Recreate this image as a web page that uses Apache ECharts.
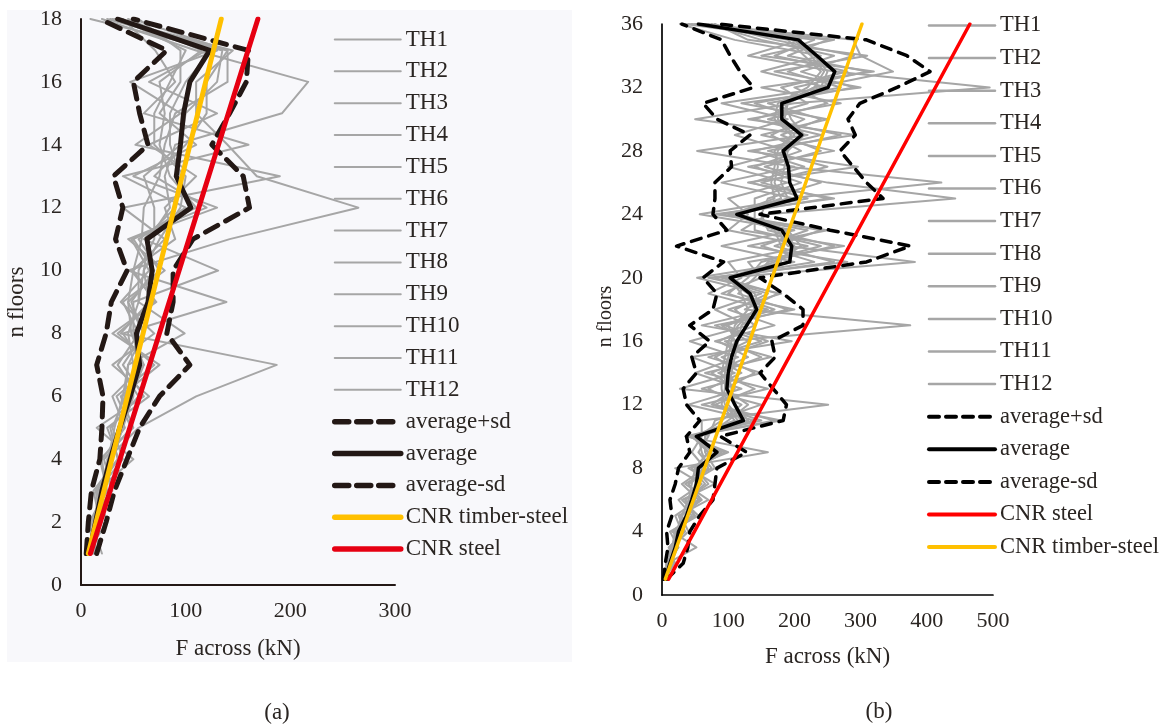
<!DOCTYPE html>
<html>
<head>
<meta charset="utf-8">
<script src="https://cdn.jsdelivr.net/npm/echarts@6/dist/echarts.min.js"></script>
<style>
html,body{margin:0;padding:0;background:#ffffff;}
#chart{width:1166px;height:728px;}
</style>
</head>
<body>
<div id="chart"></div>
<script>
// ---------- (a) 18-floor building ----------
const floorsA = [1,2,3,4,5,6,7,8,9,10,11,12,13,14,15,16,17,18];
const thA1  = [5,25,15,50,15,60,40,60,45,75,55,100,40,160,60,90,71,40];
const thA2  = [8,12,18,26,32,40,45,99,55,60,65,85,80,90,192,217,110,20];
const thA3  = [20,10,30,22,48,34,70,35,70,50,80,40,190,52,95,47,130,9];
const thA4  = [6,18,12,35,28,55,35,55,40,80,45,120,70,100,120,120,140,50];
const thA5  = [10,14,20,28,38,45,55,50,50,131,60,90,95,85,85,100,125,35];
const thA6  = [12,8,24,20,42,30,60,40,139,45,142,265,168,140,110,110,145,30];
const thA7  = [7,20,16,40,30,42,45,60,48,70,50,110,85,75,80,75,115,45];
const thA8  = [9,16,22,30,40,50,50,45,55,55,70,70,60,95,100,130,135,25];
const thA9  = [14,11,28,25,55,110,187,38,65,60,75,95,100,70,70,85,100,38];
const thA10 = [4,19,14,36,25,65,30,70,38,65,48,130,50,110,75,95,95,55];
const thA11 = [13,15,21,30,36,48,60,48,45,50,58,60,75,80,90,140,140,28];
const thA12 = [11,9,25,18,50,38,75,30,72,48,90,80,110,65,130,65,120,32];
const avgA   = [8,14,20,28,37,47,56,53,64,68,63,105,91,95,98,104,123,35];
const avgUpA = [15,24,32,44,56,75,104,82,88,88,107,161,155,125,142,158,160,50];
const avgLoA = [5,7,10,18,20,21,15,24,29,44,33,40,31,64,56,50,82,18];
const cnrTimberA_F = [7, 134];
const cnrTimberA_N = [1, 18];
const cnrSteelA_F  = [9, 169];
const cnrSteelA_N  = [1, 18];

// ---------- (b) 36-floor building ----------
const floorsB = [1,2,3,4,5,6,7,8,9,10,11,12,13,14,15,16,17,18,19,20,21,22,23,24,25,26,27,28,29,30,31,32,33,34,35,36];
const thB1  = [4,10,12,30,20,55,30,65,45,60,60,251,27,110,45,196,60,160,70,120,100,220,100,130,100,190,100,190,110,190,90,250,150,240,110,27];
const thB2  = [6,15,18,22,30,40,45,50,70,45,110,90,95,95,100,105,110,130,120,100,180,180,170,110,180,170,175,170,200,175,180,230,349,300,289,60];
const thB3  = [3,8,52,15,45,25,60,20,160,35,140,40,120,50,115,42,130,80,150,53,200,90,200,57,200,90,200,53,220,50,200,495,260,130,210,35];
const thB4  = [2,20,10,35,25,70,35,75,55,70,80,150,60,150,70,150,80,200,90,150,130,275,120,160,443,250,130,260,150,250,120,300,170,310,130,80];
const thB5  = [5,12,20,28,38,45,50,55,80,50,120,100,100,105,110,115,120,150,140,105,190,200,185,115,190,422,190,185,210,185,190,240,250,230,200,55];
const thB6  = [8,6,25,12,55,30,80,40,100,40,180,60,160,65,165,80,170,100,180,70,280,130,250,80,260,130,296,130,291,130,270,150,320,150,260,40];
const thB7  = [4,18,14,40,28,60,40,70,60,55,90,120,70,120,80,130,90,170,100,130,150,240,140,140,140,210,140,210,165,215,140,270,190,260,150,70];
const thB8  = [5,11,15,20,35,42,55,60,75,50,115,95,90,90,95,100,115,140,130,95,382,190,175,105,170,165,170,175,195,170,175,220,240,215,190,50];
const thB9  = [7,9,22,18,50,35,65,45,90,42,150,75,110,75,130,85,140,110,160,80,230,150,220,90,220,135,215,140,240,140,220,180,280,170,230,45];
const thB10 = [7,14,12,32,30,58,40,80,65,65,100,130,95,140,90,160,95,190,115,140,160,260,160,150,160,240,155,240,180,240,160,290,210,290,170,75];
const thB11 = [3,10,16,25,40,50,55,50,70,48,130,110,105,100,105,110,100,145,135,100,170,210,190,120,190,180,185,190,215,195,185,230,245,225,200,55];
const thB12 = [6,13,24,20,48,35,70,50,95,45,170,80,140,85,150,95,375,125,175,90,260,170,240,100,250,150,250,160,270,160,250,200,310,190,250,65];
const avgB   = [5,12,20,25,37,45,52,55,83,52,123,110,98,100,105,113,128,143,133,103,193,196,181,113,204,193,191,183,211,181,181,251,261,234,206,55];
const avgUpB = [7,32,39,42,57,77,80,83,128,88,183,188,168,148,171,166,213,213,183,148,309,375,254,148,334,309,289,269,292,281,299,355,405,370,309,85];
const avgLoB = [2,5,9,7,15,12,20,25,42,37,57,37,32,52,45,72,42,77,83,62,93,22,98,77,80,80,105,103,133,83,62,138,118,103,90,30];
const cnrSteelB_F  = [10, 465];
const cnrSteelB_N  = [1, 36];
const cnrTimberB_F = [5, 302];
const cnrTimberB_N = [1, 36];

const thNames = ['TH1','TH2','TH3','TH4','TH5','TH6','TH7','TH8','TH9','TH10','TH11','TH12'];
const thA = [thA1,thA2,thA3,thA4,thA5,thA6,thA7,thA8,thA9,thA10,thA11,thA12];
const thB = [thB1,thB2,thB3,thB4,thB5,thB6,thB7,thB8,thB9,thB10,thB11,thB12];

const FONT = 'Liberation Serif';
const TXT = '#2a2522';
const GRAY = '#a6a6a6';
const DARK_A = '#231815';
const YEL = '#ffc000';
const RED_A = '#e60012';
const RED_B = '#ff0000';

function pairs(xs, ys){ return xs.map((v,i)=>[v, ys[i]]); }
function line(name, idx, data, color, width, type, z){
  return {
    type:'line', name:name, xAxisIndex:idx, yAxisIndex:idx, data:data,
    symbol:'none', showSymbol:false, silent:true, animation:false, z:z||2,
    lineStyle:{color:color, width:width, type:type||'solid', cap:'round', join:'round'},
    itemStyle:{color:color}
  };
}

const series = [];
thA.forEach((v,i)=>series.push(line(thNames[i], 0, pairs(v, floorsA), GRAY, 2)));
series.push(line('average+sd', 0, pairs(avgUpA, floorsA), DARK_A, 5, [14,9], 3));
series.push(line('average', 0, pairs(avgA, floorsA), DARK_A, 5, 'solid', 3));
series.push(line('average-sd', 0, pairs(avgLoA, floorsA), DARK_A, 5, [14,9], 3));
series.push(line('CNR timber-steel', 0, pairs(cnrTimberA_F, cnrTimberA_N), YEL, 5, 'solid', 4));
series.push(line('CNR steel', 0, pairs(cnrSteelA_F, cnrSteelA_N), RED_A, 5, 'solid', 4));

thB.forEach((v,i)=>series.push(line(thNames[i], 1, pairs(v, floorsB), GRAY, 2)));
series.push(line('average+sd', 1, pairs(avgUpB, floorsB), '#000', 3.5, [10,8], 3));
series.push(line('average', 1, pairs(avgB, floorsB), '#000', 3.5, 'solid', 3));
series.push(line('average-sd', 1, pairs(avgLoB, floorsB), '#000', 3.5, [10,8], 3));
series.push(line('CNR steel', 1, pairs(cnrSteelB_F, cnrSteelB_N), RED_B, 3.5, 'solid', 4));
series.push(line('CNR timber-steel', 1, pairs(cnrTimberB_F, cnrTimberB_N), YEL, 3.5, 'solid', 4));

function legendItems(defs){
  return defs.map(d=>({
    name:d[0],
    itemStyle:{color:'rgba(0,0,0,0)', borderWidth:0, opacity:0},
    lineStyle:{color:d[1], width:d[2], type:d[3]||'solid', cap:'round', opacity:1}
  }));
}
const legA = thNames.map(n=>[n, GRAY, 2]).concat([
  ['average+sd', DARK_A, 5.5, [14,8]],
  ['average', DARK_A, 5.5],
  ['average-sd', DARK_A, 5.5, [14,8]],
  ['CNR timber-steel', YEL, 5.5],
  ['CNR steel', RED_A, 5.5]
]);
const legB = thNames.map(n=>[n, GRAY, 2.5]).concat([
  ['average+sd', '#000', 4, [10,7]],
  ['average', '#000', 4],
  ['average-sd', '#000', 4, [10,7]],
  ['CNR steel', RED_B, 4],
  ['CNR timber-steel', YEL, 4]
]);

function axisCommon(){
  return {
    axisTick:{show:false}, splitLine:{show:false},
    axisLabel:{fontFamily:FONT, fontSize:22, color:TXT},
    nameTextStyle:{fontFamily:FONT, fontSize:23, color:TXT}
  };
}

const option = {
  backgroundColor:'#ffffff',
  animation:false,
  textStyle:{fontFamily:FONT},
  graphic:[
    {type:'rect', z:-10, silent:true, shape:{x:7, y:10, width:565, height:652}, style:{fill:'#f8f8fb'}},
    {type:'text', silent:true, x:277, y:713, style:{text:'(a)', font:'23px "Liberation Serif"', fill:TXT, textAlign:'center', textVerticalAlign:'middle'}},
    {type:'text', silent:true, x:879, y:712, style:{text:'(b)', font:'23px "Liberation Serif"', fill:TXT, textAlign:'center', textVerticalAlign:'middle'}}
  ],
  grid:[
    {left:81, top:19, width:314, height:566, containLabel:false},
    {left:662, top:24, width:331, height:571, containLabel:false}
  ],
  xAxis:[
    Object.assign(axisCommon(), {gridIndex:0, type:'value', min:0, max:300, interval:100,
      name:'F across (kN)', nameLocation:'middle', nameGap:52,
      axisLine:{show:true, onZero:false, lineStyle:{color:DARK_A, width:2}},
      axisLabel:{fontFamily:FONT, fontSize:22, color:TXT, margin:15}}),
    Object.assign(axisCommon(), {gridIndex:1, type:'value', min:0, max:500, interval:100,
      name:'F across (kN)', nameLocation:'middle', nameGap:50,
      axisLine:{show:true, onZero:false, lineStyle:{color:'#000', width:1.7}},
      axisLabel:{fontFamily:FONT, fontSize:22, color:TXT, margin:15}})
  ],
  yAxis:[
    Object.assign(axisCommon(), {gridIndex:0, type:'value', min:0, max:18, interval:2,
      name:'n floors', nameLocation:'middle', nameGap:53,
      axisLine:{show:true, onZero:false, lineStyle:{color:DARK_A, width:2}},
      axisLabel:{fontFamily:FONT, fontSize:22, color:TXT, margin:19}}),
    Object.assign(axisCommon(), {gridIndex:1, type:'value', min:0, max:36, interval:4,
      name:'n floors', nameLocation:'middle', nameGap:46,
      nameTextStyle:{fontFamily:FONT, fontSize:20, color:TXT, padding:[0,0,0,-14]},
      axisLine:{show:true, onZero:false, lineStyle:{color:'#000', width:1.7}},
      axisLabel:{fontFamily:FONT, fontSize:22, color:TXT, margin:19}})
  ],
  legend:[
    {orient:'vertical', left:327, top:23, itemWidth:66, itemHeight:12, itemGap:8.85, padding:5,
     selectedMode:false, data:legendItems(legA),
     textStyle:{fontFamily:FONT, fontSize:23, lineHeight:22, color:TXT}},
    {orient:'vertical', left:922, top:9, itemWidth:66, itemHeight:12, itemGap:9.6, padding:5,
     selectedMode:false, data:legendItems(legB),
     textStyle:{fontFamily:FONT, fontSize:22.5, lineHeight:22, color:TXT}}
  ],
  series:series
};

const chart = echarts.init(document.getElementById('chart'), null, {renderer:'canvas'});
chart.setOption(option);
</script>
</body>
</html>
